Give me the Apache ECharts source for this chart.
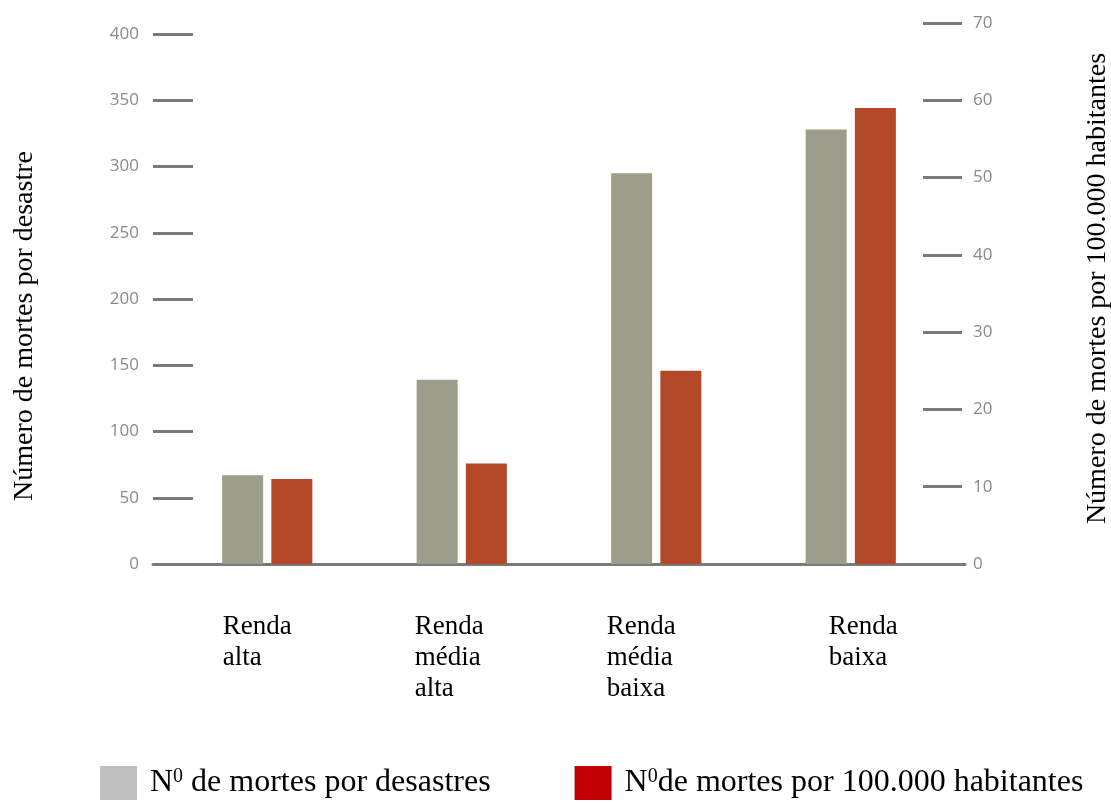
<!DOCTYPE html>
<html>
<head>
<meta charset="utf-8">
<script src="https://cdn.jsdelivr.net/npm/echarts@6/dist/echarts.min.js"></script>
<style>
html,body{margin:0;padding:0;background:#fff;}
#chart{width:1111px;height:803px;}
</style>
</head>
<body>
<div id="chart"></div>
<script>
const categories = ['Renda\nalta', 'Renda\nmédia\nalta', 'Renda\nmédia\nbaixa', 'Renda\nbaixa'];
const deathsPerDisaster = [67, 139, 295, 328];
const deathsPer100k = [11, 13, 25, 59];
const seriesNames = ['N0 de mortes por desastres', 'N0de mortes por 100.000 habitantes'];
const leftAxisName = 'Número de mortes por desastre';
const rightAxisName = 'Número de mortes por 100.000 habitantes';
const leftTicks = { min: 0, max: 400, interval: 50 };
const rightTicks = { min: 0, max: 70, interval: 10 };

const serif = '"Liberation Serif", "Times New Roman", serif';
const tickColor = '#7a7a7a';
const labelPads = [11, 6, 1, 56];

const chart = echarts.init(document.getElementById('chart'), null, { renderer: 'canvas' });

const gridL = 170, gridR = 1111 - 948, gridBottom = 803 - 564;

const option = {
  animation: false,
  backgroundColor: '#fff',
  grid: [
    { left: gridL, right: gridR, top: 34, bottom: gridBottom, containLabel: false, outerBoundsMode: 'none' },
    { left: gridL, right: gridR, top: 23, bottom: gridBottom, containLabel: false, outerBoundsMode: 'none' },
    { left: 153, right: 1111 - 965, top: 23, bottom: gridBottom, containLabel: false, outerBoundsMode: 'none' }
  ],
  xAxis: [
    {
      type: 'category', gridIndex: 0,
      data: categories.map((c, i) => ({ value: c, textStyle: { padding: [0, 0, 0, labelPads[i]] } })),
      axisLine: { show: false }, axisTick: { show: false },
      axisLabel: {
        interval: 0, margin: 47, align: 'center',
        formatter: v => v.split('\n').map(l => '{a|' + l + '}').join('\n'),
        rich: { a: { width: 100, align: 'left', fontSize: 27, lineHeight: 31, fontFamily: serif, color: '#000' } }
      }
    },
    { type: 'category', gridIndex: 1, data: categories, show: false },
    {
      type: 'category', gridIndex: 2, data: categories,
      axisLine: { show: true, lineStyle: { color: tickColor, width: 3 } },
      axisTick: { show: false }, axisLabel: { show: false }
    }
  ],
  yAxis: [
    {
      type: 'value', gridIndex: 0, position: 'left', offset: -23,
      min: leftTicks.min, max: leftTicks.max, interval: leftTicks.interval,
      axisLine: { show: false },
      axisTick: { show: true, inside: false, length: 40, lineStyle: { color: tickColor, width: 3 } },
      splitLine: { show: false },
      axisLabel: { margin: 54, fontSize: 17, color: '#8a8a8a', fontFamily: '"Open Sans", sans-serif' },
      name: leftAxisName, nameLocation: 'middle', nameRotate: 90, nameGap: 154,
      nameTextStyle: { fontSize: 28, fontFamily: serif, color: '#000', padding: [0, 54, 0, 0] }
    },
    {
      type: 'value', gridIndex: 1, position: 'right', offset: -25,
      min: rightTicks.min, max: rightTicks.max, interval: rightTicks.interval,
      axisLine: { show: false },
      axisTick: { show: true, inside: false, length: 39, lineStyle: { color: tickColor, width: 3 } },
      splitLine: { show: false },
      axisLabel: { margin: 50, fontSize: 17, color: '#8a8a8a', fontFamily: '"Open Sans", sans-serif' },
      name: rightAxisName, nameLocation: 'middle', nameRotate: 90, nameGap: 161,
      nameTextStyle: { fontSize: 28, fontFamily: serif, color: '#000', padding: [0, 0, 0, 10] }
    },
    { type: 'value', gridIndex: 2, min: 0, max: 1, show: false }
  ],
  legend: {
    left: 100, top: 766, padding: 0, itemWidth: 37, itemHeight: 34, itemGap: 84,
    data: [
      { name: seriesNames[0], icon: 'rect', itemStyle: { color: '#bfbfbf' } },
      { name: seriesNames[1], icon: 'rect', itemStyle: { color: '#c00000' } }
    ],
    formatter: n => 'N{sup|0}' + n.slice(2),
    textStyle: {
      fontSize: 32, fontFamily: serif, color: '#000', padding: [0, 0, 0, 8],
      rich: { sup: { fontSize: 20, fontFamily: serif, color: '#000', verticalAlign: 'top', lineHeight: 32 } }
    }
  },
  series: [
    {
      name: seriesNames[0], type: 'bar', xAxisIndex: 0, yAxisIndex: 0,
      barWidth: 41, barGap: '20%', data: deathsPerDisaster,
      itemStyle: { color: '#9d9d8c' }
    },
    {
      name: 'placeholder-a', type: 'bar', xAxisIndex: 0, yAxisIndex: 0,
      barWidth: 41, barGap: '20%', data: []
    },
    {
      name: 'placeholder-b', type: 'bar', xAxisIndex: 1, yAxisIndex: 1,
      barWidth: 41, barGap: '20%', data: []
    },
    {
      name: seriesNames[1], type: 'bar', xAxisIndex: 1, yAxisIndex: 1,
      barWidth: 41, barGap: '20%', data: deathsPer100k,
      itemStyle: { color: '#b4492a' }
    }
  ]
};
chart.setOption(option);
</script>
</body>
</html>
